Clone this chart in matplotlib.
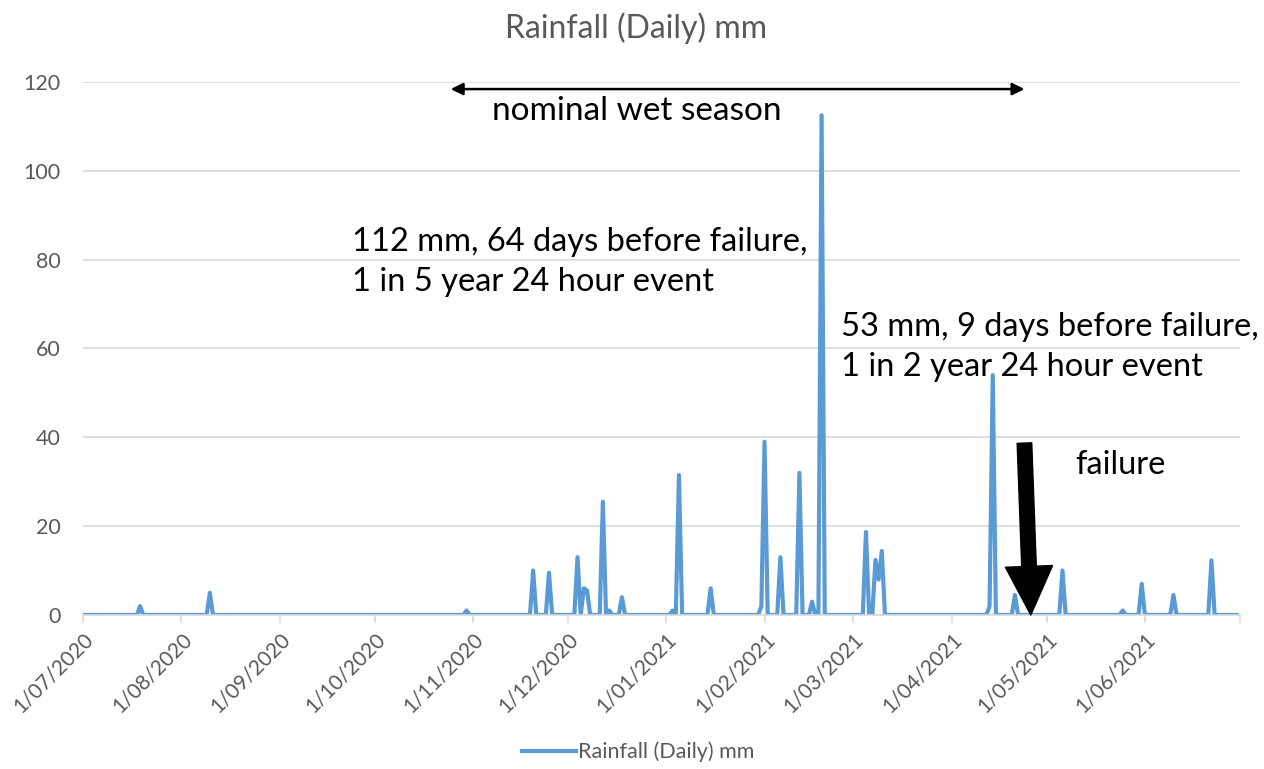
# Rainfall (Daily) mm - recreation of an Excel style line chart
import pandas as pd
import matplotlib.pyplot as plt
import matplotlib.dates as mdates

plt.rcParams["font.family"] = ["Lato", "DejaVu Sans"]

# ── data: rain days (all other days are 0 mm) ───────────────────
rain_dates = [
    "2020-07-19", "2020-08-10", "2020-10-30", "2020-11-20", "2020-11-25",
    "2020-12-04", "2020-12-06", "2020-12-07", "2020-12-12", "2020-12-14",
    "2020-12-18", "2021-01-03", "2021-01-05", "2021-01-15", "2021-01-31",
    "2021-02-01", "2021-02-06", "2021-02-12", "2021-02-16", "2021-02-19",
    "2021-03-05", "2021-03-08", "2021-03-09", "2021-03-10", "2021-04-13",
    "2021-04-14", "2021-04-21", "2021-05-06", "2021-05-25", "2021-05-31",
    "2021-06-10", "2021-06-22",
]
rain_mm = [
    2.0, 5.0, 1.0, 10.0, 9.5,
    13.0, 6.0, 5.5, 25.5, 1.0,
    4.0, 1.0, 31.5, 6.0, 2.0,
    39.0, 13.0, 32.0, 3.0, 112.5,
    18.7, 12.4, 8.0, 14.4, 2.0,
    54.0, 4.5, 10.0, 1.0, 7.0,
    4.5, 12.3,
]
start, end = "2020-07-01", "2021-06-30"

days = pd.date_range(start, end, freq="D")
rain = pd.Series(0.0, index=days)
rain[pd.to_datetime(rain_dates)] = rain_mm

grey = "#595959"
grid = "#d9d9d9"
blue = "#5b9bd5"

fig = plt.figure(figsize=(12.64, 7.69), dpi=100)
ax = fig.add_axes([0.0657, 0.2003, 0.9153, 0.6931])

ax.plot(rain.index, rain.values, color=blue, linewidth=3.0,
        solid_joinstyle="round", label="Rainfall (Daily) mm")

x_end = pd.Timestamp("2021-07-01")
ax.set_xlim(pd.Timestamp("2020-07-01"), x_end)
ax.set_ylim(0, 120)
ax.set_yticks(range(0, 121, 20))
ax.grid(axis="y", color=grid, linewidth=1.2)
ax.set_axisbelow(True)


def date_label(v, pos):
    d = mdates.num2date(v)
    if d.year == 2021 and d.month == 7:
        return ""
    return f"{d.day}/{d.month:02d}/{d.year}"


ax.xaxis.set_major_locator(mdates.MonthLocator())
ax.xaxis.set_major_formatter(plt.FuncFormatter(date_label))
for s in ["top", "right", "left"]:
    ax.spines[s].set_visible(False)
ax.spines["bottom"].set_color(grid)
ax.spines["bottom"].set_linewidth(1.2)
ax.tick_params(axis="x", colors=grid, length=6, width=1.2, labelcolor=grey,
               labelsize=15, pad=4)
ax.tick_params(axis="y", length=0, labelcolor=grey, labelsize=15.5, pad=16)
plt.setp(ax.get_xticklabels(), rotation=45, ha="right", rotation_mode="anchor")

fig.text(0.503, 1 - 28 / 769, "Rainfall (Daily) mm", color=grey, fontsize=23,
         ha="center", va="center")

# ── annotations ────────────────────────────────────────────────
ax.annotate("", xy=(pd.Timestamp("2020-10-25"), 118.4),
            xytext=(pd.Timestamp("2021-04-24"), 118.4),
            arrowprops=dict(arrowstyle="<|-|>", color="black", lw=1.8,
                            mutation_scale=18, shrinkA=0, shrinkB=0),
            annotation_clip=False)
ax.text(pd.Timestamp("2020-11-07"), 113.5, "nominal wet season",
        fontsize=24, va="center", ha="left", color="black")

ax.text(pd.Timestamp("2020-09-24"), 79.5,
        "112 mm, 64 days before failure,\n1 in 5 year 24 hour event",
        fontsize=23.5, va="center", ha="left", color="black", linespacing=1.42)
ax.text(pd.Timestamp("2021-02-25"), 60.4,
        "53 mm, 9 days before failure,\n1 in 2 year 24 hour event",
        fontsize=23.5, va="center", ha="left", color="black", linespacing=1.42)

ax.annotate("", xy=(pd.Timestamp("2021-04-26"), 0),
            xytext=(pd.Timestamp("2021-04-24"), 38.7),
            arrowprops=dict(width=10.5, headwidth=34, headlength=35,
                            color="black", shrink=0))
ax.text(pd.Timestamp("2021-05-10"), 33.8, "failure",
        fontsize=23.5, va="center", ha="left", color="black")

fig.legend(loc="center", bbox_to_anchor=(0.505, 1 - 752 / 769), frameon=False,
           fontsize=15.5, labelcolor=grey, handlelength=2.5, handletextpad=0.1)

fig.savefig("out.png", dpi=100)
